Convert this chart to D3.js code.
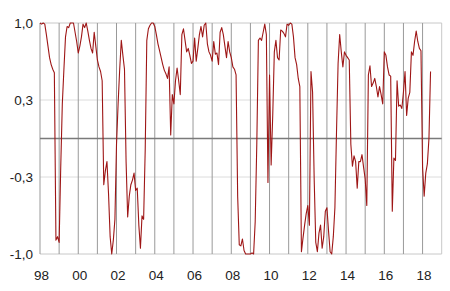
<!doctype html>
<html>
<head>
<meta charset="utf-8">
<script src="https://cdnjs.cloudflare.com/ajax/libs/d3/7.8.5/d3.min.js"></script>
<style>
  body { margin: 0; background: #fff; }
  svg text { font-family: "Liberation Sans", Arial, sans-serif; font-size: 13.5px; fill: #222; }
</style>
</head>
<body>
<svg id="chart" width="450" height="291"></svg>
<script>
// monthly values, starting january 1998
var startYear = 1998;
var values = [
  1.0, 0.99, 1.0, 0.99, 0.90, 0.80, 0.70, 0.64, 0.60, 0.57, -0.88, -0.85,      // 1998
  -0.90, -0.25, 0.30, 0.60, 0.88, 0.97, 0.96, 1.0, 1.0, 1.0, 0.92, 0.84,       // 1999
  0.74, 0.80, 0.88, 0.99, 0.96, 1.0, 0.93, 0.85, 0.78, 0.74, 0.92, 0.80,       // 2000
  0.68, 0.62, 0.58, 0.50, -0.40, -0.28, -0.20, -0.48, -0.85, -1.0, -0.88, -0.70, // 2001
  -0.05, 0.30, 0.60, 0.85, 0.72, 0.60, -0.20, -0.68, -0.50, -0.40, -0.36, -0.30, // 2002
  -0.45, -0.43, -0.75, -0.95, -0.67, -0.70, -0.10, 0.85, 0.95, 0.98, 1.0, 1.0,  // 2003
  0.97, 0.90, 0.82, 0.76, 0.70, 0.64, 0.59, 0.56, 0.52, 0.62, 0.03, 0.38,      // 2004
  0.30, 0.50, 0.61, 0.50, 0.38, 0.90, 0.95, 0.85, 0.75, 0.78, 0.72, 0.65,      // 2005
  0.67, 0.87, 0.67, 0.78, 0.90, 0.97, 0.88, 0.98, 1.0, 0.82, 0.75, 0.72,       // 2006
  0.67, 0.84, 0.73, 0.74, 0.64, 0.92, 0.96, 0.90, 0.80, 0.70, 0.84, 0.75,      // 2007
  0.70, 0.62, 0.60, 0.55, -0.50, -0.92, -0.93, -0.87, -0.97, -1.0, -1.0, -1.0, // 2008
  -1.0, -0.99, -1.0, -0.72, -0.05, 0.85, 0.87, 0.85, 0.92, 0.99, 0.90, -0.38,  // 2009
  0.55, -0.23, 0.20, 0.75, 0.85, 0.70, 0.68, 0.94, 0.93, 0.91, 0.88, 0.99,     // 2010
  0.98, 1.0, 0.99, 0.88, 0.70, 0.64, 0.52, 0.45, -0.98, -0.86, -0.75, -0.65,   // 2011
  -0.58, -0.75, 0.58, 0.40, -0.35, -0.90, -0.98, -0.82, -0.75, -0.95, -0.85, -0.63, // 2012
  -0.60, -0.80, -0.98, -1.0, -0.85, -0.60, 0.05, 0.65, 0.90, 0.75, 0.62, 0.75, // 2013
  0.72, 0.70, 0.68, -0.05, -0.24, -0.15, -0.20, -0.43, -0.20, -0.20, -0.14, -0.25, // 2014
  -0.35, -0.58, 0.55, 0.63, 0.45, 0.48, 0.52, 0.45, 0.36, 0.45, 0.38, 0.30,    // 2015
  0.75, 0.72, 0.62, 0.55, 0.54, -0.63, -0.17, -0.19, 0.50, 0.28, 0.29, 0.26,   // 2016
  0.40, 0.58, 0.20, 0.35, 0.40, 0.75, 0.72, 0.84, 0.93, 0.84, 0.78, 0.76,      // 2017
  -0.25, -0.50, -0.30, -0.22, 0.0, 0.58                                        // 2018
];

var yTicks = [-1, -1 / 3, 1 / 3, 1];
var yTickLabels = ["-1,0", "-0,3", "0,3", "1,0"];
var yearLines = d3.range(1998, 2020);
var xTickYears = [1998, 2000, 2002, 2004, 2006, 2008, 2010, 2012, 2014, 2016, 2018];
var xTickLabels = ["98", "00", "02", "04", "06", "08", "10", "12", "14", "16", "18"];

var plotLeft = 40, plotRight = 441.7, plotTop = 23, plotBottom = 254;

var svg = d3.select("#chart");

var x = d3.scaleLinear().domain([1998, 2019]).range([plotLeft, plotRight]);
var y = d3.scaleLinear().domain([-1, 1]).range([plotBottom, plotTop]);

// horizontal grid
svg.append("g").selectAll("line")
  .data([1, 1 / 3, -1 / 3, -1])
  .enter().append("line")
  .attr("x1", plotLeft).attr("x2", plotRight)
  .attr("y1", d => y(d)).attr("y2", d => y(d))
  .style("stroke", d => Math.abs(d) == 1 ? "#c8c8c8" : "#dcdcdc")
  .style("stroke-width", 1);

// vertical year lines
svg.append("g").selectAll("line")
  .data(yearLines)
  .enter().append("line")
  .attr("x1", d => x(d)).attr("x2", d => x(d))
  .attr("y1", plotTop).attr("y2", plotBottom)
  .style("stroke", d => d == 2019 ? "#c8c8c8" : "#999")
  .style("stroke-width", 1);

// zero line
svg.append("line")
  .attr("x1", plotLeft).attr("x2", plotRight)
  .attr("y1", y(0)).attr("y2", y(0))
  .style("stroke", "#7a7a7a")
  .style("stroke-width", 1.3);

// axes (labels only)
var yAxis = d3.axisLeft(y).tickValues(yTicks)
  .tickFormat((d, i) => yTickLabels[i]).tickSize(0).tickPadding(7);
var gy = svg.append("g").attr("transform", "translate(" + plotLeft + ",0)").call(yAxis);
gy.select(".domain").remove();

var xAxis = d3.axisBottom(x).tickValues(xTickYears)
  .tickFormat((d, i) => xTickLabels[i]).tickSize(0).tickPadding(16);
var gx = svg.append("g").attr("transform", "translate(1," + plotBottom + ")").call(xAxis);
gx.select(".domain").remove();

svg.selectAll(".tick text")
  .style("font-family", '"Liberation Sans", Arial, sans-serif')
  .style("font-size", "13.5px")
  .style("fill", "#222");

// series
var line = d3.line()
  .x((d, i) => x(startYear + i / 12))
  .y(d => y(d));

svg.append("path")
  .datum(values)
  .attr("d", line)
  .style("fill", "none")
  .style("stroke", "#9e1616")
  .style("stroke-width", 1.1)
  .style("stroke-linejoin", "round");
</script>
</body>
</html>
